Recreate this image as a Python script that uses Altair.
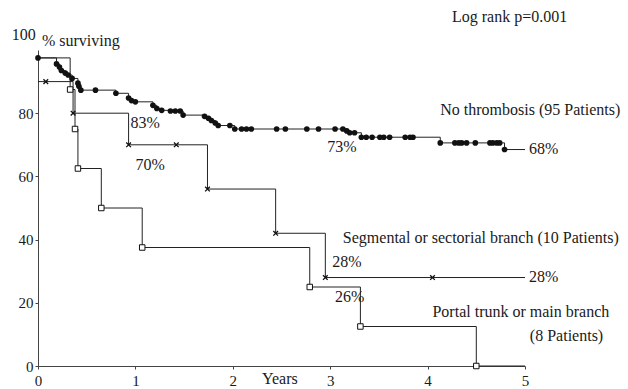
import altair as alt
import pandas as pd

# ---- No thrombosis (95 patients): event times (years) and survival (%) ----
nt_t = [0.0, 0.19, 0.22, 0.24, 0.28, 0.31, 0.35, 0.41, 0.42, 0.44, 0.59, 0.80,
        0.93, 0.96, 1.00, 1.18, 1.22, 1.27, 1.36, 1.41, 1.46, 1.49, 1.71, 1.75,
        1.78, 1.82, 1.85, 1.97, 2.02, 2.09, 2.14, 2.19, 2.45, 2.54, 2.76, 2.88,
        3.05, 3.13, 3.17, 3.20, 3.25, 3.32, 3.37, 3.43, 3.51, 3.55, 3.61, 3.77,
        3.82, 3.85, 4.13, 4.28, 4.32, 4.35, 4.40, 4.49, 4.64, 4.67, 4.71, 4.74,
        4.79]
nt_v = [97.5, 95.6, 94.6, 93.5, 92.7, 92.1, 91.0, 89.5, 88.5, 87.3, 87.3, 86.3,
        84.8, 84.0, 83.6, 82.5, 81.5, 80.9, 80.7, 80.7, 80.7, 79.4, 79.0, 78.4,
        77.7, 76.9, 76.1, 76.1, 75.0, 75.0, 75.0, 75.0, 75.0, 75.0, 75.0, 75.0,
        75.0, 75.0, 74.4, 73.8, 73.8, 72.4, 72.4, 72.4, 72.4, 72.4, 72.4, 72.4,
        72.4, 72.4, 70.6, 70.6, 70.6, 70.6, 70.6, 70.6, 70.6, 70.6, 70.6, 70.6,
        68.5]

# ---- Segmental or sectorial branch (10 patients) ----
seg_t = [0.0, 0.36, 0.93, 1.74, 2.44, 2.95]
seg_v = [90, 80, 70, 56, 42, 28]
seg_mark_t = [0.08, 0.36, 0.93, 1.42, 1.74, 2.44, 2.95, 4.05]
seg_mark_v = [90, 80, 70, 70, 56, 42, 28, 28]

# ---- Portal trunk or main branch (8 patients) ----
por_t = [0.0, 0.33, 0.38, 0.41, 0.65, 1.07, 2.79, 3.31, 4.50]
por_v = [97.5, 87.5, 75, 62.5, 50, 37.5, 25, 12.5, 0]

follow_up_end = 5.0

# ---- annotations ----
ann_text = ["Log rank p=0.001", "% surviving", "100", "No thrombosis (95 Patients)",
            "83%", "70%", "73%", "68%",
            "Segmental or sectorial branch (10 Patients)", "28%", "28%", "26%",
            "Portal trunk or main branch", "(8 Patients)", "Years"]
ann_t = [4.25, 0.04, -0.27, 4.13, 0.95, 1.00, 2.97, 5.04, 3.13, 3.02, 5.04, 3.05,
         4.05, 5.05, 2.30]
ann_v = [110.6, 102.7, 104.6, 80.9, 76.8, 63.5, 69.2, 68.6, 40.4, 32.9, 28.1, 21.8,
         17.1, 9.5, -4.0]

x_ticks = [0, 1, 2, 3, 4, 5]
y_ticks = [0, 20, 40, 60, 80]

FONT = "Liberation Serif"
INK = "#1a1a1a"

lines = pd.concat([
    pd.DataFrame({"group": "none", "t": nt_t + [follow_up_end], "v": nt_v + [nt_v[-1]]}),
    pd.DataFrame({"group": "seg", "t": seg_t + [follow_up_end], "v": seg_v + [seg_v[-1]]}),
    pd.DataFrame({"group": "portal", "t": por_t + [follow_up_end], "v": por_v + [por_v[-1]]}),
], ignore_index=True)

dots = pd.DataFrame({"t": nt_t, "v": nt_v})
crosses = pd.DataFrame({"t": seg_mark_t, "v": seg_mark_v})
squares = pd.DataFrame({"t": por_t[1:], "v": por_v[1:]})
ann = pd.DataFrame({"text": ann_text, "t": ann_t, "v": ann_v})

xs = alt.Scale(domain=[0, 5], nice=False, zero=False)
ys = alt.Scale(domain=[0, 100], nice=False)

x_axis = alt.Axis(values=x_ticks, format="d", title=None, grid=False, tickSize=3,
                  labelPadding=4, labelFont=FONT, labelFontSize=15, labelColor=INK,
                  domainColor="#444", tickColor="#444", labelFlush=False)
y_axis = alt.Axis(values=y_ticks, format="d", title=None, grid=False, tickSize=3,
                  labelPadding=2, labelFont=FONT, labelFontSize=15, labelColor=INK,
                  domainColor="#444", tickColor="#444")

base_line = alt.Chart(lines).mark_line(interpolate="step-after", color="#222",
                                       strokeWidth=1).encode(
    x=alt.X("t:Q", scale=xs, axis=x_axis),
    y=alt.Y("v:Q", scale=ys, axis=y_axis),
    detail="group:N",
)

dot_layer = alt.Chart(dots).mark_point(shape="circle", filled=True, color="#111",
                                       size=32, opacity=1).encode(
    x=alt.X("t:Q", scale=xs), y=alt.Y("v:Q", scale=ys))

cross_layer = alt.Chart(crosses).mark_point(shape="M-1,-1L1,1M-1,1L1,-1", filled=False,
                                            color="#111", size=22, strokeWidth=1.3,
                                            opacity=1).encode(
    x=alt.X("t:Q", scale=xs), y=alt.Y("v:Q", scale=ys))

square_layer = alt.Chart(squares).mark_point(shape="square", filled=True, fill="white",
                                             stroke="#111", strokeWidth=1, size=30,
                                             opacity=1).encode(
    x=alt.X("t:Q", scale=xs), y=alt.Y("v:Q", scale=ys))

text_layer = alt.Chart(ann).mark_text(align="left", baseline="middle", font=FONT,
                                      fontSize=16, color=INK).encode(
    x=alt.X("t:Q", scale=xs), y=alt.Y("v:Q", scale=ys), text="text:N")

chart = alt.layer(base_line, dot_layer, cross_layer, square_layer, text_layer).properties(
    width=487, height=316,
    padding={"left": 38, "top": 50, "right": 103, "bottom": 23},
    autosize=alt.AutoSizeParams(type="none"),
    background="white",
).configure_view(stroke=None)

chart.save("out.html", embed_options={"renderer": "svg", "actions": False})
